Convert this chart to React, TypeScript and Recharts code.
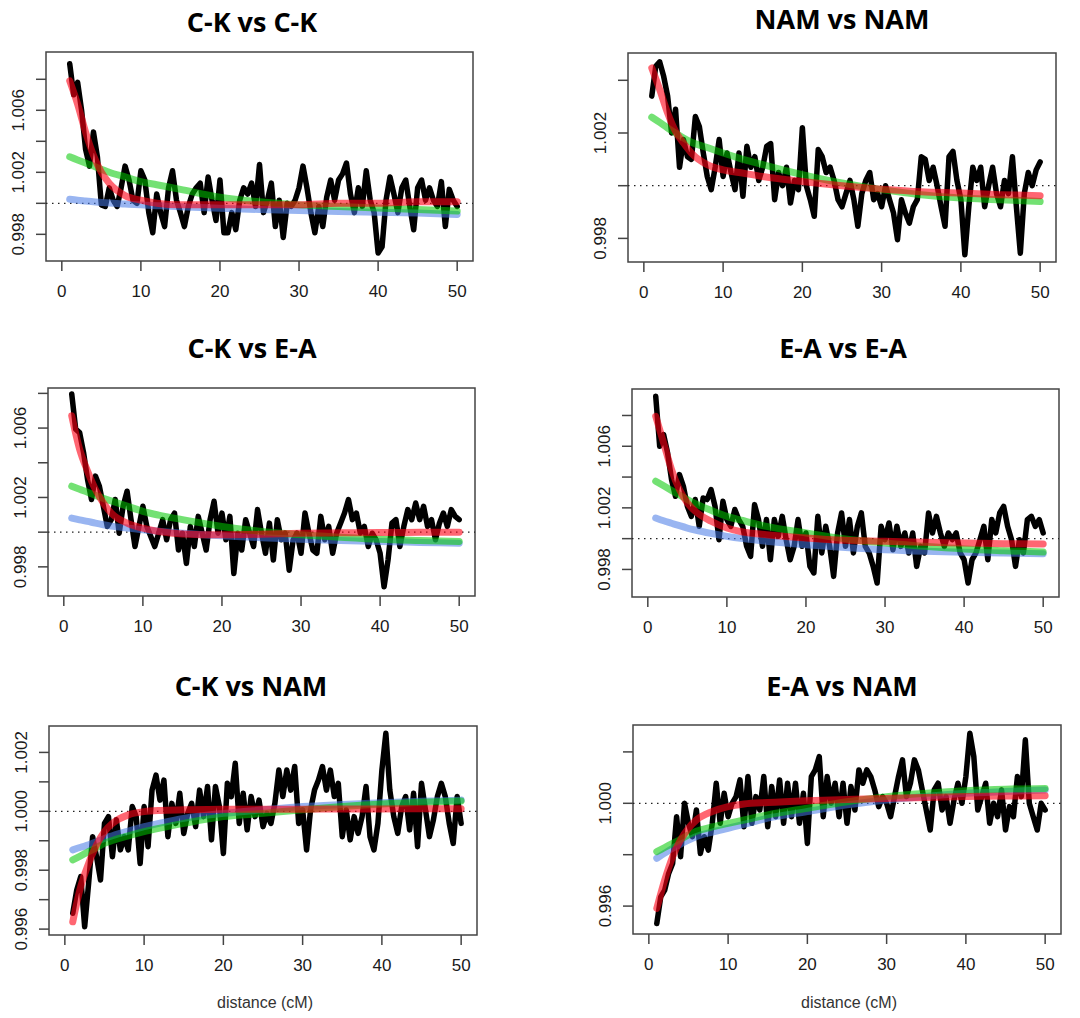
import React from 'react';
import { LineChart, Line, XAxis, YAxis, ReferenceLine, ReferenceArea } from 'recharts';

// ---------- shared axes ----------
const distance = [
  1, 1.5, 2, 2.5, 3, 3.5, 4, 4.5, 5, 5.5,
  6, 6.5, 7, 7.5, 8, 8.5, 9, 9.5, 10, 10.5,
  11, 11.5, 12, 12.5, 13, 13.5, 14, 14.5, 15, 15.5,
  16, 16.5, 17, 17.5, 18, 18.5, 19, 19.5, 20, 20.5,
  21, 21.5, 22, 22.5, 23, 23.5, 24, 24.5, 25, 25.5,
  26, 26.5, 27, 27.5, 28, 28.5, 29, 29.5, 30, 30.5,
  31, 31.5, 32, 32.5, 33, 33.5, 34, 34.5, 35, 35.5,
  36, 36.5, 37, 37.5, 38, 38.5, 39, 39.5, 40, 40.5,
  41, 41.5, 42, 42.5, 43, 43.5, 44, 44.5, 45, 45.5,
  46, 46.5, 47, 47.5, 48, 48.5, 49, 49.5, 50,
];
const fitDistance = [1, 2, 3, 4, 5, 6, 8, 10, 12, 15, 20, 25, 30, 35, 40, 45, 50];
const xTicks = [0, 10, 20, 30, 40, 50];

const titles = ['C-K vs C-K', 'NAM vs NAM', 'C-K vs E-A', 'E-A vs E-A', 'C-K vs NAM', 'E-A vs NAM'];
const xLabel = 'distance (cM)';

// ---------- C-K vs C-K ----------
const ckckObs = [
  1.0090, 1.0070, 1.0078, 1.0060, 1.0035, 1.0024, 1.0046, 1.0030, 0.9999, 0.9998,
  1.0010, 1.0002, 0.9998, 1.0010, 1.0024, 1.0015, 1.0002, 1.0000, 1.0021, 1.0015,
  0.9994, 0.9981, 1.0006, 0.9994, 0.9985, 1.0010, 1.0021, 1.0002, 0.9994, 0.9985,
  0.9998, 1.0006, 1.0010, 1.0013, 0.9994, 1.0017, 1.0002, 0.9989, 1.0015, 0.9981,
  0.9981, 0.9994, 0.9983, 1.0002, 1.0010, 1.0006, 1.0013, 0.9998, 1.0025, 0.9994,
  1.0002, 1.0013, 0.9985, 1.0002, 0.9978, 1.0000, 0.9998, 1.0002, 1.0010, 1.0024,
  1.0010, 0.9994, 0.9981, 0.9998, 0.9985, 1.0004, 1.0015, 1.0002, 1.0015, 1.0019,
  1.0026, 1.0006, 0.9994, 1.0010, 0.9998, 1.0021, 1.0002, 0.9994, 0.9968, 0.9972,
  1.0002, 1.0017, 1.0006, 0.9994, 1.0010, 1.0015, 0.9998, 0.9983, 1.0010, 1.0015,
  1.0002, 1.0010, 1.0002, 0.9998, 1.0014, 0.9985, 1.0009, 1.0002, 0.9998,
];
const ckckRed = [1.0079, 1.0064, 1.0046, 1.0031, 1.0020, 1.0013, 1.0005, 1.0002, 1.0000, 0.9999, 0.9999, 0.9999, 0.9999, 1.0000, 1.0000, 1.0001, 1.0001];
const ckckGreen = [1.0030, 1.0028, 1.0026, 1.0024, 1.0022, 1.0020, 1.0017, 1.0014, 1.0012, 1.0009, 1.0004, 1.0001, 0.9999, 0.9998, 0.9997, 0.9996, 0.9995];
const ckckBlue = [1.00026, 1.0002, 1.00015, 1.0001, 1.00006, 1.00002, 0.99996, 0.9999, 0.99985, 0.99978, 0.99968, 0.9996, 0.99953, 0.99947, 0.99942, 0.99937, 0.99928];

// ---------- NAM vs NAM ----------
const namnamObs = [
  1.0034, 1.00453, 1.0047, 1.00415, 1.0034, 1.0020, 1.0029, 1.0007, 1.00175, 1.0011,
  1.0010, 1.00263, 1.00225, 1.00124, 1.00035, 0.99985, 1.0007, 1.00175, 1.00035, 1.00124,
  1.0005, 0.99985, 1.00124, 0.9996, 1.0015, 1.0007, 1.0011, 1.0002, 1.0007, 1.0015,
  1.0016, 0.99947, 1.0005, 1.0000, 1.0007, 0.99934, 1.0002, 0.99985, 1.0022, 1.0000,
  0.99947, 0.99884, 1.00137, 1.0011, 1.0005, 1.0007, 1.0002, 0.99947, 0.9992, 0.9997,
  1.0002, 0.99947, 0.99846, 0.9997, 1.0002, 1.0005, 0.99947, 0.9997, 0.9992, 1.0000,
  0.99947, 0.99896, 0.99795, 0.99947, 0.99896, 0.99858, 0.9992, 0.99947, 1.0011, 1.0010,
  1.0002, 1.0007, 1.0000, 0.9992, 0.99846, 1.0011, 1.0013, 1.0002, 0.99947, 0.99738,
  0.9992, 1.0007, 1.0002, 1.0007, 0.9992, 1.0000, 1.0007, 0.9997, 0.9992, 1.0002,
  0.9997, 1.0011, 0.9992, 0.99744, 0.9997, 1.0005, 1.0000, 1.0006, 1.0009,
];
const namnamRed = [1.00447, 1.00365, 1.00276, 1.00206, 1.00162, 1.00124, 1.0008, 1.0006, 1.0005, 1.00035, 1.00016, 1.0, 0.99987, 0.99977, 0.99972, 0.99966, 0.99962];
const namnamGreen = [1.0026, 1.0024, 1.00219, 1.002, 1.00181, 1.00165, 1.00145, 1.00124, 1.00105, 1.0008, 1.00042, 1.0001, 0.99985, 0.99966, 0.99953, 0.99947, 0.9994];

// ---------- C-K vs E-A ----------
const ckeaObs = [
  1.00797, 1.00594, 1.00574, 1.00458, 1.00304, 1.00188, 1.00323, 1.00265, 1.00149, 1.00033,
  1.00072, 1.00188, 0.99994, 1.00149, 1.00236, 1.00072, 0.99917, 1.00033, 1.00149, 1.00033,
  0.99975, 0.99917, 0.99994, 1.00072, 0.99956, 1.00072, 1.0011, 0.99897, 0.99994, 0.9982,
  1.00033, 0.99917, 1.00091, 0.99994, 0.99897, 1.00072, 1.00178, 0.99994, 1.0011, 0.99956,
  1.00091, 0.99762, 0.99994, 0.99897, 1.00072, 0.99994, 0.99917, 1.0013, 0.99994, 0.99878,
  1.00052, 0.99839, 1.00072, 0.99956, 0.99994, 0.99781, 0.99956, 0.99994, 0.99878, 1.0011,
  0.99994, 0.99897, 0.99878, 1.00091, 0.99956, 1.00033, 0.99878, 0.99994, 1.00052, 1.0011,
  1.00188, 1.00072, 1.0011, 0.99994, 1.00033, 0.99917, 0.99994, 0.99956, 0.99878, 0.99685,
  0.99839, 1.00052, 1.00072, 0.99917, 1.00033, 1.0013, 1.00072, 1.00168, 1.00072, 1.00149,
  1.00033, 1.00072, 0.99956, 1.00052, 1.0011, 1.00033, 1.0013, 1.00091, 1.00072,
];
const ckeaRed = [1.00671, 1.00478, 1.00352, 1.00246, 1.00168, 1.0011, 1.00052, 1.00023, 1.00004, 0.9999, 0.99985, 0.99988, 0.99994, 0.99996, 0.99998, 0.99999, 1.0];
const ckeaGreen = [1.00265, 1.00247, 1.0023, 1.00212, 1.00195, 1.0018, 1.0015, 1.0012, 1.00098, 1.00072, 1.00033, 1.00004, 0.99985, 0.99971, 0.99959, 0.99952, 0.99946];
const ckeaBlue = [1.00081, 1.00071, 1.00062, 1.00052, 1.00043, 1.00035, 1.00024, 1.00014, 1.00006, 0.99994, 0.99979, 0.99968, 0.99959, 0.99952, 0.99946, 0.99941, 0.99936];

// ---------- E-A vs E-A ----------
const eaeaObs = [
  1.00925, 1.006, 1.00676, 1.00557, 1.00384, 1.00275, 1.00416, 1.0034, 1.0021, 1.00145,
  1.00254, 1.0008, 1.00264, 1.00254, 1.00319, 1.0021, 0.99993, 1.00243, 1.00124, 1.0008,
  1.00189, 1.00124, 1.0008, 0.9995, 0.99885, 1.00221, 1.00124, 0.9995, 1.00124, 0.99863,
  1.00124, 1.00015, 1.00145, 0.99993, 0.99863, 0.9995, 1.00124, 0.9995, 1.00037, 0.9982,
  0.99777, 1.00145, 0.99907, 1.0008, 0.9995, 0.99755, 1.00037, 1.00167, 0.9995, 1.00124,
  0.99907, 1.0008, 1.00167, 0.9995, 0.99907, 0.9982, 0.99712, 1.0008, 0.99993, 1.00102,
  0.99928, 1.0008, 0.9995, 1.00037, 0.99907, 1.00037, 0.9982, 0.9995, 0.99907, 1.00167,
  1.00037, 1.00145, 1.00037, 0.9995, 1.00037, 0.99993, 1.00037, 0.99907, 0.99863, 0.99712,
  0.99863, 0.99907, 0.99993, 1.0008, 0.99863, 1.00124, 1.00037, 1.00167, 1.0021, 1.0008,
  0.99993, 0.9982, 0.99993, 0.99907, 1.00124, 1.00145, 1.0008, 1.00124, 1.00037,
];
const eaeaRed = [1.00795, 1.00622, 1.00449, 1.00319, 1.00232, 1.00178, 1.00113, 1.00069, 1.00043, 1.00026, 1.00004, 0.99989, 0.99983, 0.99976, 0.99972, 0.99967, 0.99965];
const eaeaGreen = [1.00373, 1.00343, 1.00313, 1.00283, 1.00254, 1.00228, 1.00184, 1.00145, 1.00118, 1.0008, 1.00037, 0.99998, 0.99972, 0.9995, 0.99933, 0.99922, 0.99913];
const eaeaBlue = [1.00134, 1.00116, 1.001, 1.00084, 1.00069, 1.00056, 1.00034, 1.00015, 1.0, 0.99983, 0.99961, 0.99943, 0.99928, 0.99918, 0.99911, 0.99906, 0.99902];

// ---------- C-K vs NAM ----------
const cknamObs = [
  0.99654, 0.99733, 0.99778, 0.99608, 0.99756, 0.99914, 0.99846, 0.99767, 0.99959, 0.99982,
  0.99846, 0.99971, 0.99869, 0.99914, 0.99869, 1.00016, 0.99982, 0.99823, 1.00016, 0.9988,
  1.00072, 1.00123, 1.00038, 1.00106, 0.99914, 1.00027, 0.99959, 1.00061, 0.99925, 0.99993,
  1.00027, 0.99948, 1.00072, 0.99982, 1.00084, 0.99903, 1.00084, 1.00016, 0.99857, 1.00095,
  1.0005, 1.00163, 0.99959, 1.00061, 0.99937, 1.0005, 0.99982, 1.00038, 0.99948, 0.99993,
  0.99959, 1.00027, 1.0014, 1.0005, 1.0014, 1.00072, 1.00152, 0.99959, 1.00005, 0.99869,
  1.00005, 1.00072, 1.00106, 1.00152, 1.00072, 1.0014, 1.0005, 1.00095, 0.99914, 1.00005,
  0.99903, 0.99982, 0.99925, 0.99982, 1.00084, 0.99914, 0.99869, 0.99959, 1.0014, 1.00265,
  1.00072, 0.99982, 0.99925, 1.00016, 1.0005, 0.99937, 1.00061, 0.9988, 1.00095, 1.00005,
  0.99914, 0.99971, 1.0005, 1.00095, 1.0005, 0.99959, 0.99891, 1.0005, 0.99959,
];
const cknamRed = [0.99625, 0.99744, 0.99823, 0.99886, 0.99931, 0.99959, 0.99988, 0.99999, 1.00003, 1.00005, 1.00007, 1.00007, 1.00007, 1.00008, 1.00008, 1.00009, 1.00009];
const cknamGreen = [0.99835, 0.99849, 0.99863, 0.99877, 0.99891, 0.99901, 0.99917, 0.99931, 0.99943, 0.99959, 0.99982, 0.99993, 1.00005, 1.00016, 1.00025, 1.00031, 1.00035];
const cknamBlue = [0.99869, 0.99878, 0.99886, 0.99897, 0.99908, 0.99917, 0.99933, 0.99948, 0.9996, 0.99976, 0.99993, 1.00005, 1.00016, 1.00023, 1.00029, 1.00034, 1.00038];

// ---------- E-A vs NAM ----------
const eanamObs = [
  0.99532, 0.99636, 0.99662, 0.99727, 0.99766, 0.99948, 0.99792, 1.0, 0.99922, 0.9987,
  0.99974, 0.99805, 0.9987, 0.99818, 0.99922, 1.00078, 0.99922, 1.00039, 0.99948, 1.0,
  1.00026, 1.00091, 0.99909, 1.00104, 0.99922, 1.00026, 0.99974, 1.00104, 0.99909, 1.00065,
  0.99948, 1.00091, 0.99922, 1.00078, 0.99948, 1.00078, 0.99922, 1.00039, 0.99844, 1.00104,
  1.0013, 1.00182, 0.99948, 1.00104, 1.0, 1.00078, 0.99948, 1.00078, 0.99922, 1.00065,
  0.99974, 1.0013, 1.00078, 1.0013, 1.00104, 1.00052, 0.99987, 1.00026, 1.0, 0.99948,
  1.00026, 1.00104, 1.00169, 1.00026, 1.00078, 1.00169, 1.0013, 1.00052, 0.99974, 0.99896,
  1.00052, 1.00078, 0.99974, 1.00026, 0.99922, 1.00013, 1.00078, 1.0, 1.00104, 1.00273,
  1.00182, 0.99974, 1.00026, 1.00078, 0.99922, 1.0, 0.99948, 1.00052, 0.99896, 0.99987,
  0.99948, 1.00104, 1.00026, 1.00247, 1.0, 0.99948, 0.99896, 1.0, 0.99974,
];
const eanamRed = [0.99591, 0.99701, 0.99792, 0.99857, 0.99903, 0.99935, 0.99968, 0.99987, 0.99997, 1.00003, 1.0001, 1.00015, 1.00019, 1.00023, 1.00026, 1.00028, 1.00029];
const eanamGreen = [0.99812, 0.99828, 0.99844, 0.9986, 0.99877, 0.99891, 0.99908, 0.99922, 0.99935, 0.99955, 0.99981, 1.00006, 1.00026, 1.00039, 1.00049, 1.00055, 1.00058];
const eanamBlue = [0.99786, 0.99806, 0.99825, 0.99841, 0.99857, 0.99871, 0.99888, 0.99903, 0.99918, 0.99942, 0.99968, 0.99994, 1.00013, 1.00027, 1.00039, 1.00046, 1.00052];

// ---------- y tick values / labels ----------
const yTicksWide = [0.998, 1.0, 1.002, 1.004, 1.006, 1.008];
const yLabelsWide = ['0.998', '1.002', '1.006'];
const yTicksNamNam = [0.998, 1.0, 1.002, 1.004];
const yLabelsNamNam = ['0.998', '1.002'];
const yTicksCkNam = [0.996, 0.997, 0.998, 0.999, 1.0, 1.001, 1.002];
const yLabelsCkNam = ['0.996', '0.998', '1.000', '1.002'];
const yTicksEaNam = [0.996, 0.998, 1.0, 1.002];
const yLabelsEaNam = ['0.996', '1.000'];

// ---------- styling ----------
const AXIS_FONT = '"Liberation Sans", Arial, Helvetica, sans-serif';
const TITLE_FONT = '"Open Sans", "Noto Sans", sans-serif';
const RED = 'rgb(255,0,20)';
const GREEN = 'rgb(0,200,0)';
const BLUE = 'rgb(70,120,230)';
const ML = 60, MT = 10, MR = 10, MB = 50;

const toPts = (xs: number[], ys: number[]) => xs.map((x, i) => ({ x, y: ys[i] }));

type PanelSpec = {
  box: { x: number; y: number; w: number; h: number };
  yDomain: [number, number];
  yTicks: number[];
  yLabels: string[];
  obs: number[];
  red: number[];
  green: number[];
  blue?: number[];
  title: string;
  titleX: number;
  titleY: number;
  xlab?: boolean;
};

const panels: PanelSpec[] = [
  { box: { x: 46, y: 52, w: 427, h: 209 }, yDomain: [0.99628, 1.00976], yTicks: yTicksWide, yLabels: yLabelsWide, obs: ckckObs, red: ckckRed, green: ckckGreen, blue: ckckBlue, title: titles[0], titleX: 252, titleY: 31.5 },
  { box: { x: 628, y: 53, w: 428, h: 209 }, yDomain: [0.997104, 1.005036], yTicks: yTicksNamNam, yLabels: yLabelsNamNam, obs: namnamObs, red: namnamRed, green: namnamGreen, title: titles[1], titleX: 842, titleY: 28.5 },
  { box: { x: 48, y: 388, w: 427, h: 208 }, yDomain: [0.99632, 1.00831], yTicks: yTicksWide, yLabels: yLabelsWide, obs: ckeaObs, red: ckeaRed, green: ckeaGreen, blue: ckeaBlue, title: titles[2], titleX: 252, titleY: 358 },
  { box: { x: 632, y: 389, w: 427, h: 208 }, yDomain: [0.99621, 1.00972], yTicks: yTicksWide, yLabels: yLabelsWide, obs: eaeaObs, red: eaeaRed, green: eaeaGreen, blue: eaeaBlue, title: titles[3], titleX: 843, titleY: 358 },
  { box: { x: 49, y: 726, w: 428, h: 209 }, yDomain: [0.9958, 1.002897], yTicks: yTicksCkNam, yLabels: yLabelsCkNam, obs: cknamObs, red: cknamRed, green: cknamGreen, blue: cknamBlue, title: titles[4], titleX: 251, titleY: 696, xlab: true },
  { box: { x: 633, y: 725, w: 428, h: 209 }, yDomain: [0.994914, 1.003047], yTicks: yTicksEaNam, yLabels: yLabelsEaNam, obs: eanamObs, red: eanamRed, green: eanamGreen, blue: eanamBlue, title: titles[5], titleX: 842, titleY: 696, xlab: true },
];

const XTick = (props: any) => {
  const { x, y, payload } = props;
  return (
    <text x={x} y={y + 24} textAnchor="middle" fontSize={17} fontFamily={AXIS_FONT} fill="#1a1a1a">
      {payload.value}
    </text>
  );
};

const makeYTick = (labels: string[]) => (props: any) => {
  const { x, y, payload } = props;
  const lab = labels.find((l) => Math.abs(parseFloat(l) - payload.value) < 1e-7);
  if (!lab) return <g />;
  const bx = x - 10;
  return (
    <text x={bx} y={y} transform={`rotate(-90, ${bx}, ${y})`} textAnchor="middle" fontSize={17} fontFamily={AXIS_FONT} fill="#1a1a1a">
      {lab}
    </text>
  );
};

const Panel = ({ p }: { p: PanelSpec }) => {
  const { box } = p;
  return (
    <div style={{ position: 'absolute', left: box.x - ML, top: box.y - MT }}>
      <LineChart width={box.w + ML + MR} height={box.h + MT + MB} margin={{ top: MT, right: MR, bottom: 0, left: 0 }}>
        <XAxis
          type="number"
          dataKey="x"
          domain={[-2, 52]}
          ticks={xTicks}
          interval={0}
          allowDataOverflow
          height={MB}
          tickSize={10}
          axisLine={false}
          tickLine={{ stroke: '#444', strokeWidth: 1.5 }}
          tick={XTick}
        />
        <YAxis
          type="number"
          dataKey="y"
          domain={p.yDomain}
          ticks={p.yTicks}
          interval={0}
          allowDataOverflow
          width={ML}
          tickSize={10}
          axisLine={false}
          tickLine={{ stroke: '#444', strokeWidth: 1.5 }}
          tick={makeYTick(p.yLabels)}
        />
        <ReferenceLine y={1} stroke="#222" strokeWidth={1.3} strokeDasharray="1.5 4.5" />
        <Line data={toPts(distance, p.obs)} dataKey="y" type="linear" stroke="#000" strokeWidth={5.5} strokeLinejoin="round" strokeLinecap="round" dot={false} isAnimationActive={false} />
        {p.blue && (
          <Line data={toPts(fitDistance, p.blue)} dataKey="y" type="monotone" stroke={BLUE} strokeOpacity={0.55} strokeWidth={7} strokeLinecap="round" dot={false} isAnimationActive={false} />
        )}
        <Line data={toPts(fitDistance, p.green)} dataKey="y" type="monotone" stroke={GREEN} strokeOpacity={0.55} strokeWidth={7} strokeLinecap="round" dot={false} isAnimationActive={false} />
        <Line data={toPts(fitDistance, p.red)} dataKey="y" type="monotone" stroke={RED} strokeOpacity={0.6} strokeWidth={7} strokeLinecap="round" dot={false} isAnimationActive={false} />
        <ReferenceArea x1={-2} x2={52} y1={p.yDomain[0]} y2={p.yDomain[1]} fill="none" fillOpacity={0} stroke="#444" strokeWidth={1.5} ifOverflow="visible" />
      </LineChart>
    </div>
  );
};

export default function App() {
  return (
    <div style={{ position: 'absolute', left: 0, top: 0, width: 1080, height: 1018, background: '#fff', overflow: 'hidden' }}>
      {panels.map((p, i) => (
        <Panel key={i} p={p} />
      ))}
      <svg width={1080} height={1018} style={{ position: 'absolute', left: 0, top: 0, pointerEvents: 'none' }}>
        {panels.map((p, i) => (
          <text key={'t' + i} x={p.titleX} y={p.titleY} textAnchor="middle" fontSize={27} fontWeight={700} fontFamily={TITLE_FONT} fill="#000">
            {p.title}
          </text>
        ))}
        {panels.filter((p) => p.xlab).map((p, i) => (
          <text key={'x' + i} x={p.box.x + p.box.w / 2 + 2} y={1008} textAnchor="middle" fontSize={16} fontFamily={AXIS_FONT} fill="#333">
            {xLabel}
          </text>
        ))}
      </svg>
    </div>
  );
}
